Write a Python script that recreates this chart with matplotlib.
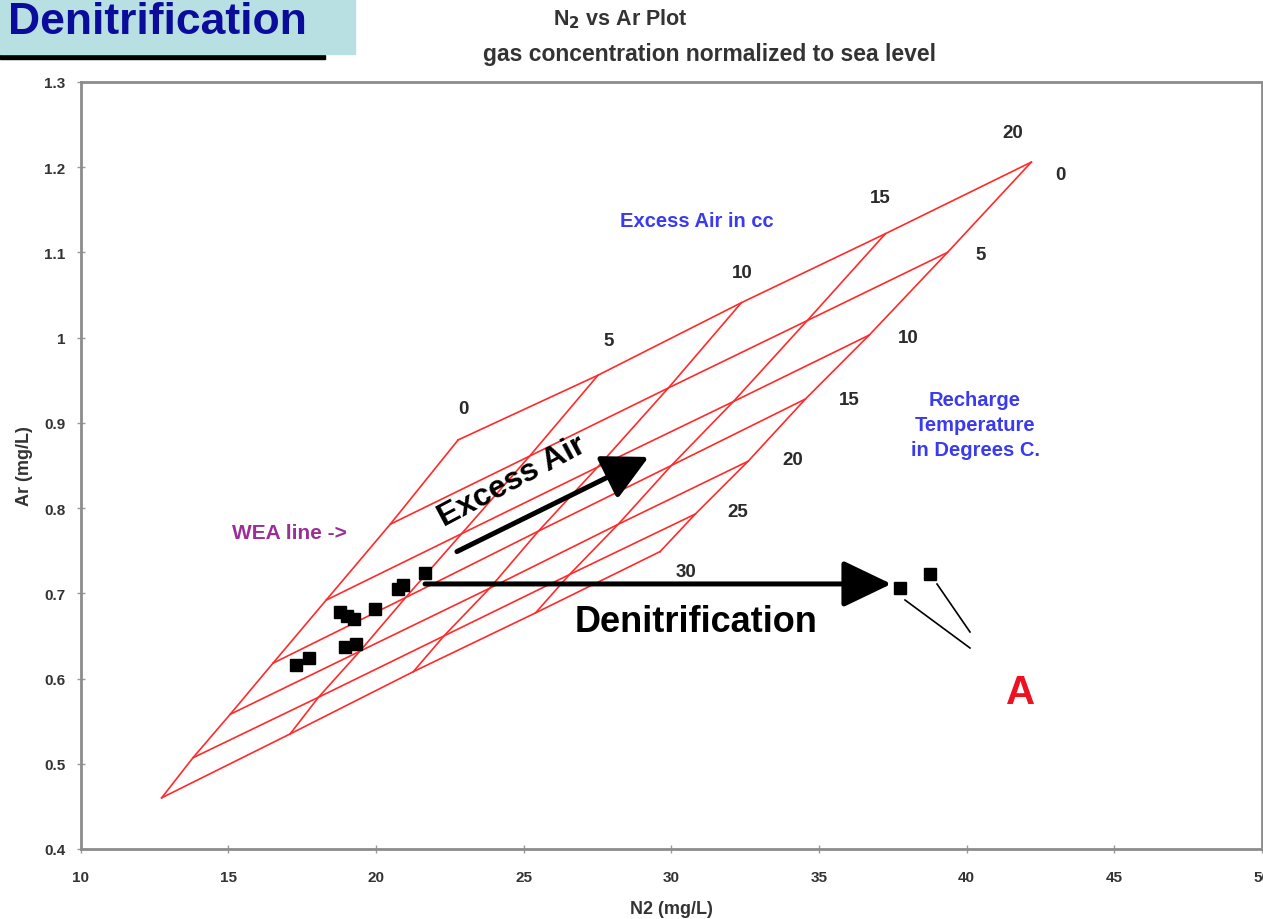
import numpy as np
import matplotlib.pyplot as plt
from matplotlib.patches import Rectangle
from matplotlib.lines import Line2D

plt.rcParams['font.family'] = ['Liberation Sans', 'DejaVu Sans']
plt.rcParams['font.weight'] = 'bold'

# recharge temperature (deg C) and excess air (cc) for the WEA grid
temps = [0, 5, 10, 15, 20, 25, 30]
excess_air = [0, 5, 10, 15, 20]

# grid nodes, one row per temperature, one column per excess air step
n2_grid = [
    [22.78, 27.52, 32.37, 37.25, 42.19],
    [20.48, 25.20, 29.90, 34.60, 39.35],
    [18.31, 22.90, 27.50, 32.10, 36.70],
    [16.51, 21.00, 25.50, 30.00, 34.54],
    [15.06, 19.45, 23.85, 28.20, 32.60],
    [13.80, 18.05, 22.30, 26.55, 30.81],
    [12.74, 17.09, 21.26, 25.40, 29.62],
]
ar_grid = [
    [0.880, 0.956, 1.041, 1.122, 1.206],
    [0.781, 0.861, 0.941, 1.020, 1.100],
    [0.692, 0.770, 0.848, 0.925, 1.003],
    [0.618, 0.695, 0.773, 0.850, 0.928],
    [0.558, 0.632, 0.706, 0.781, 0.855],
    [0.507, 0.578, 0.650, 0.722, 0.793],
    [0.460, 0.535, 0.608, 0.677, 0.749],
]

# well samples
sample_n2 = [17.28, 17.74, 18.78, 19.01, 19.26, 18.95, 19.32, 19.95, 20.76, 20.93, 21.66, 37.75, 38.75]
sample_ar = [0.616, 0.624, 0.678, 0.673, 0.670, 0.637, 0.641, 0.682, 0.705, 0.710, 0.724, 0.706, 0.723]

# arrow ends (N2, Ar)
denit_start = (21.66, 0.711)
denit_end = (37.45, 0.711)
excess_start = (22.74, 0.749)
excess_end = (29.23, 0.860)

n2 = np.array(n2_grid)
ar = np.array(ar_grid)

fig = plt.figure(figsize=(12.63, 9.20), dpi=100)
ax = fig.add_axes([0.0639, 0.0761, 0.9353, 0.8337])

grid_red = '#ff2a2a'
for i in range(len(temps)):
    ax.plot(n2[i], ar[i], color=grid_red, lw=1.2)
for j in range(len(excess_air)):
    ax.plot(n2[:, j], ar[:, j], color=grid_red, lw=1.2)

ax.plot(sample_n2, sample_ar, ls='none', marker='s', ms=8, color='black')

label_grey = '#2b2b2b'
# temperature labels beside the 20 cc line
t_offsets = [(29, -12), (33, -2), (39, -2), (44, 0), (45, 2), (42, 3), (26, -20)]
for i, t in enumerate(temps):
    ax.annotate(str(t), (n2[i, -1], ar[i, -1]), xytext=t_offsets[i], textcoords='offset pixels',
                ha='center', va='center', fontsize=13.5, color=label_grey)
# excess air labels above the 0 deg line
ea_offsets = [(5, 31), (11, 35), (1, 30), (-5, 36), (-19, 30)]
for j, ea in enumerate(excess_air):
    ax.annotate(str(ea), (n2[0, j], ar[0, j]), xytext=ea_offsets[j], textcoords='offset pixels',
                ha='center', va='center', fontsize=13.5, color=label_grey)

# arrows
ax.annotate('', xy=denit_end, xytext=denit_start,
            arrowprops=dict(arrowstyle='-|>,head_length=0.75,head_width=0.36', lw=3.6,
                            color='black', mutation_scale=40, shrinkA=0, shrinkB=0))
ax.annotate('', xy=excess_end, xytext=excess_start,
            arrowprops=dict(arrowstyle='-|>,head_length=0.7,head_width=0.36', lw=3.6,
                            color='black', mutation_scale=40, shrinkA=0, shrinkB=0))

ax.set_xlim(10, 50)
ax.set_ylim(0.4, 1.3)
ax.set_xticks(range(10, 51, 5))
ax.set_yticks(np.arange(0.4, 1.31, 0.1))
ax.set_yticklabels(['0.4', '0.5', '0.6', '0.7', '0.8', '0.9', '1', '1.1', '1.2', '1.3'])
ax.tick_params(direction='inout', length=6, width=1, color='#999999', labelsize=11,
               labelcolor='#333333')
ax.tick_params(axis='x', pad=12)
ax.tick_params(axis='y', pad=8)
for sp in ax.spines.values():
    sp.set_color('#8c8c8c')
    sp.set_linewidth(2)
ax.set_xlabel('N2 (mg/L)', fontsize=13, fontweight='bold', color='#333333', labelpad=12)
ax.set_ylabel('Ar (mg/L)', fontsize=13, fontweight='bold', color='#333333', labelpad=8)

# lines from the denitrified samples to the "A" label
fig.add_artist(Line2D([905 / 1263, 970 / 1263], [1 - 601 / 920, 1 - 649 / 920], color='black', lw=1.2))
fig.add_artist(Line2D([937 / 1263, 970 / 1263], [1 - 585 / 920, 1 - 633 / 920], color='black', lw=1.2))

# free text
fig.text(0.491, 1 - 25 / 920, 'N$_\\mathbf{2}$ vs Ar Plot', ha='center', va='baseline', fontsize=15.5,
         color='#333333')
fig.text(0.562, 1 - 61 / 920, 'gas concentration normalized to sea level', ha='center', va='baseline',
         fontsize=16.5, color='#333333')
fig.text(0.552, 1 - 227 / 920, 'Excess Air in cc', ha='center', va='baseline', fontsize=14.5, color='#3a3af0')
fig.text(0.772, 1 - 426 / 920, 'Recharge\nTemperature\nin Degrees C.', ha='center', va='center',
         fontsize=14.5, color='#3a3af0', linespacing=1.4)
fig.text(0.229, 1 - 539 / 920, 'WEA line ->', ha='center', va='baseline', fontsize=15, color='#9a2f9a')
fig.text(0.808, 1 - 704 / 920, 'A', ha='center', va='baseline', fontsize=29, color='#ee1122')
fig.text(0.551, 1 - 632 / 920, 'Denitrification', ha='center', va='baseline', fontsize=26, color='black')
fig.text(0.405, 0.476, 'Excess Air', ha='center', va='center', fontsize=23, color='black', rotation=28)

# header box
fig.add_artist(Rectangle((0, 1 - 60 / 920), 325 / 1263, 4 / 920, color='black', transform=fig.transFigure))
fig.add_artist(Rectangle((0, 1 - 55 / 920), 355 / 1263, 55 / 920, color='#b8e0e2', transform=fig.transFigure))
fig.text(8 / 1263, 1 - 34 / 920, 'Denitrification', ha='left', va='baseline', fontsize=32, color='#0c0c9c')

fig.savefig('out.png', dpi=100)
